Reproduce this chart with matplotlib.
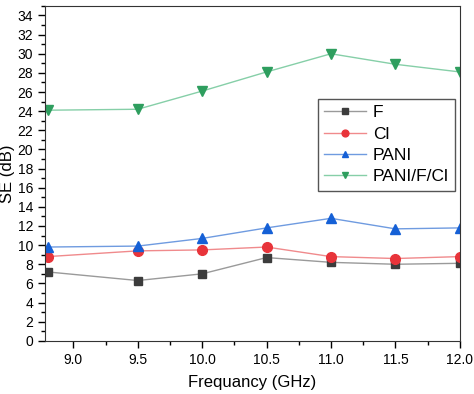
import numpy as np
import matplotlib.pyplot as plt
from matplotlib.ticker import MultipleLocator

plt.rcParams['font.family'] = ['Liberation Sans', 'DejaVu Sans']

# frequency points (GHz)
freq = [8.8, 9.5, 10.0, 10.5, 11.0, 11.5, 12.0]

# shielding effectiveness (dB)
se_f = [7.2, 6.3, 7.0, 8.7, 8.2, 8.0, 8.1]
se_cl = [8.8, 9.4, 9.5, 9.8, 8.8, 8.6, 8.8]
se_pani = [9.8, 9.9, 10.7, 11.8, 12.8, 11.7, 11.8]
se_pani_f_cl = [24.1, 24.2, 26.1, 28.1, 30.0, 28.9, 28.1]

labels = ['F', 'Cl', 'PANI', 'PANI/F/Cl']

fig = plt.figure(figsize=(4.74, 3.94), dpi=100)
ax = fig.add_axes([0.095, 0.135, 0.875, 0.85])

ax.plot(freq, se_f, color='#9a9a9a', lw=1, marker='s', ms=6,
        mfc='#3c3c3c', mec='#3c3c3c', label=labels[0])
ax.plot(freq, se_cl, color='#f08a8c', lw=1, marker='o', ms=7,
        mfc='#e8343a', mec='#e8343a', label=labels[1])
ax.plot(freq, se_pani, color='#6f9be0', lw=1, marker='^', ms=7,
        mfc='#1560d6', mec='#1560d6', label=labels[2])
ax.plot(freq, se_pani_f_cl, color='#86cfa8', lw=1, marker='v', ms=7,
        mfc='#2e9e5e', mec='#2e9e5e', label=labels[3])

ax.set_xlim(8.78, 12.0)
ax.set_ylim(0, 35)
ax.xaxis.set_major_locator(MultipleLocator(0.5))
ax.xaxis.set_minor_locator(MultipleLocator(0.25))
ax.yaxis.set_major_locator(MultipleLocator(2))
ax.yaxis.set_minor_locator(MultipleLocator(1))
ax.xaxis.set_major_formatter(plt.FormatStrFormatter('%.1f'))
ax.tick_params(which='major', direction='out', length=5, width=1, labelsize=10)
ax.tick_params(which='minor', direction='out', length=3, width=1)
for s in ax.spines.values():
    s.set_color('#333333')

ax.set_xlabel('Frequancy (GHz)', fontsize=12, labelpad=6)
ax.set_ylabel('SE (dB)', fontsize=12, labelpad=2)

ax.legend(loc='upper right', bbox_to_anchor=(0.988, 0.722), borderaxespad=0,
          fontsize=12.5, fancybox=False, edgecolor='#555555', framealpha=1,
          markerscale=0.7, handlelength=2.4, handletextpad=0.4,
          borderpad=0.35, labelspacing=0.36)

fig.savefig('out.png', dpi=100)
